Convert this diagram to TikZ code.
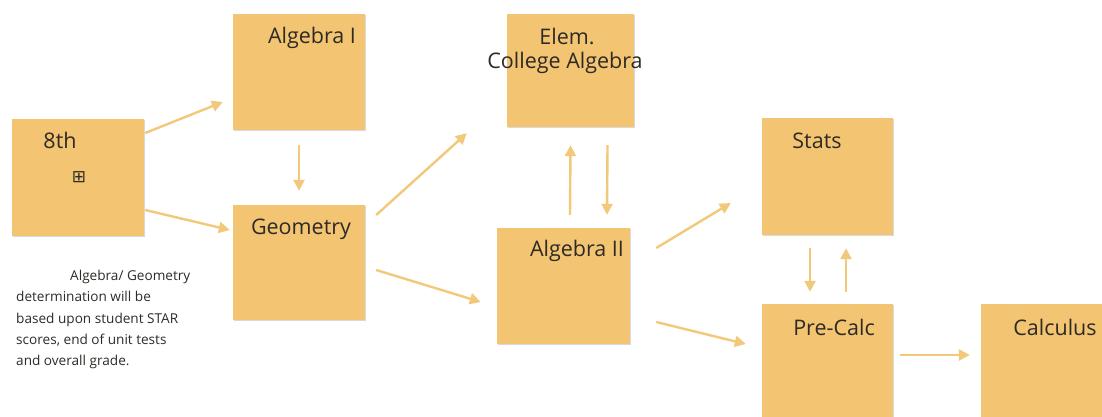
\documentclass[tikz,border=0pt]{standalone}
\usepackage{fontspec}
\setmainfont{Open Sans}
\newfontfamily\symbolfont{DejaVu Sans}
\usepackage{tikz}
\usetikzlibrary{arrows.meta}
\usetikzlibrary{shadows}
\definecolor{boxfill}{HTML}{F3C572}
\definecolor{arrowcol}{HTML}{F2C87A}
\definecolor{labelcol}{HTML}{2E2A26}
\tikzset{coursebox/.style={fill=boxfill, draw=none, inner sep=0pt,
    minimum width=132, minimum height=117,
    drop shadow={shadow xshift=0.6pt, shadow yshift=-1.4pt, opacity=0.25, fill=black!60}}}
\tikzset{coursename/.style={text=labelcol, font=\fontsize{21.5}{24}\selectfont, inner sep=0pt}}
\tikzset{flow/.style={draw=arrowcol, line width=2.4pt,
    -{Triangle[length=11pt,width=11pt]}, shorten >=0pt}}
\begin{document}
\begin{tikzpicture}[x=1pt, y=-1pt]
\useasboundingbox (0,0) rectangle (1102,416);
\node (eighth) [coursebox] at (78,177) {};
\node (alg1) [coursebox, minimum height=116] at (299,72) {};
\node (geo) [coursebox, minimum height=115] at (299,262.5) {};
\node (elem) [coursebox, minimum width=127, minimum height=113] at (570.5,70.5) {};
\node (alg2) [coursebox, minimum width=133, minimum height=116] at (563.5,286) {};
\node (stats) [coursebox, minimum width=131] at (827.5,176.5) {};
\node (precalc) [coursebox, minimum width=131, minimum height=116] at (827.5,362) {};
\node (calc) [coursebox, minimum height=116] at (1047,362) {};

\node (eighthtxt) [coursename] at (60,140.5) {8th};
\node (eighthsym) [text=labelcol, inner sep=0pt] at (79,177) {\symbolfont\fontsize{17}{17}\selectfont ⊞};
\node (alg1txt) [coursename] at (312,38) {Algebra I};
\node (geotxt) [coursename] at (301,229) {Geometry};
\node (elemtxt) [coursename] at (567,36) {Elem.};
\node (collegetxt) [coursename] at (565,63) {College Algebra};
\node (alg2txt) [coursename] at (577,251) {Algebra II};
\node (statstxt) [coursename] at (817,141) {Stats};
\node (precalctxt) [coursename] at (834,327) {Pre-Calc};
\node (calctxt) [coursename] at (1055,327) {Calculus};

\node (note) [anchor=north west, inner sep=0pt, align=left, text=labelcol,
  font=\fontsize{13.6}{21.3}\selectfont] at (16,270)
  {\hspace*{54pt}Algebra/ Geometry\\ determination will be\\ based upon student STAR\\
   scores, end of unit tests\\ and overall grade.};

\draw[flow] ([shift={(1,-44)}]eighth.east) to ([shift={(-10,30)}]alg1.west);
\draw[flow] ([shift={(1,33)}]eighth.east) to ([shift={(-3,-32.5)}]geo.west);
\draw[flow] ([shift={(0,15)}]alg1.south) to ([shift={(0,-14)}]geo.north);
\draw[flow] ([shift={(11,-47.5)}]geo.east) to ([shift={(-40,6)}]elem.south west);
\draw[flow] ([shift={(11,7.5)}]geo.east) to ([shift={(-16,16)}]alg2.west);
\draw[flow] ([shift={(6.5,-13)}]alg2.north) to ([shift={(0,18)}]elem.south);
\draw[flow] ([shift={(37,18)}]elem.south) to ([shift={(43.5,-13)}]alg2.north);
\draw[flow] ([shift={(26,-38)}]alg2.east) to ([shift={(-31,26.5)}]stats.west);
\draw[flow] ([shift={(26,36)}]alg2.east) to ([shift={(-16,-18)}]precalc.west);
\draw[flow] ([shift={(-17.5,13)}]stats.south) to ([shift={(-17.5,-12)}]precalc.north);
\draw[flow] ([shift={(18.5,-12)}]precalc.north) to ([shift={(18.5,13)}]stats.south);
\draw[flow] ([shift={(7,-7)}]precalc.east) to ([shift={(-11,-7)}]calc.west);
\end{tikzpicture}
\end{document}
